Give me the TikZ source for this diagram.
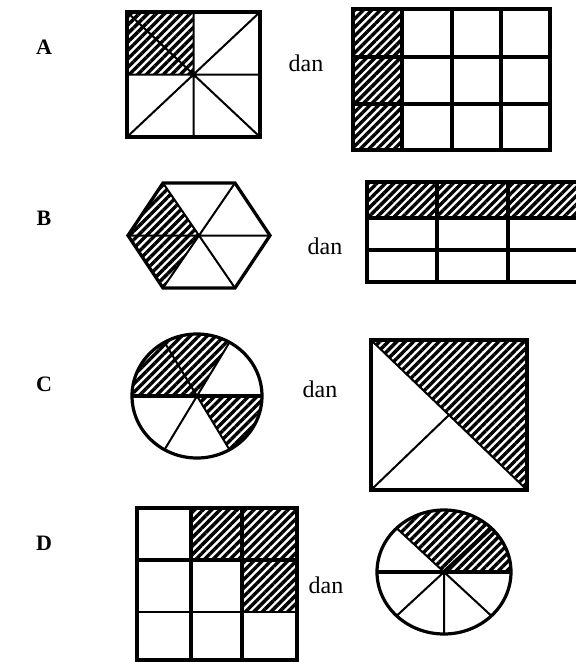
\documentclass[tikz,border=0pt]{standalone}
\usepackage{fontspec}
\setmainfont{Liberation Serif}
\usetikzlibrary{patterns.meta}

\tikzset{
  hatch/.style={pattern={Lines[angle=45,distance=6pt,line width=3.4pt]}},
  outline/.style={line width=3.2pt, line join=miter},
  inner/.style={line width=2pt},
  rowlabel/.style={font=\bfseries\fontsize{22}{22}\selectfont},
  dantext/.style={font=\fontsize{24}{24}\selectfont},
}

\begin{document}
\begin{tikzpicture}[x=1pt, y=-1pt]
    \useasboundingbox (0,0) rectangle (576,662);

    % Row labels
    \node[rowlabel] (labA) at (44,47) {A};
    \node[rowlabel] (labB) at (44,218) {B};
    \node[rowlabel] (labC) at (44,384) {C};
    \node[rowlabel] (labD) at (44,543) {D};

    % "dan" between the two shapes
    \node[dantext] (danA) at (306,63) {dan};
    \node[dantext] (danB) at (325,246) {dan};
    \node[dantext] (danC) at (320,389) {dan};
    \node[dantext] (danD) at (326,585) {dan};

    % A: square cut into eight triangles
    \coordinate (a0) at (193.5,74.5);
    \fill[hatch] (127,12) rectangle (a0);
    \draw[inner] (127,12) -- (260,137) (260,12) -- (127,137)
                 (193.5,12) -- (193.5,137) (127,74.5) -- (260,74.5);
    \draw[outline] (127,12) rectangle (260,137);

    % A: 4 x 3 grid, first column shaded
    \fill[hatch] (353,9) rectangle (402,150);
    \draw[outline] \foreach \x in {402,452,501} {(\x,9) -- (\x,150)}
                   (353,57) -- (550,57) (353,104) -- (550,104);
    \draw[outline] (353,9) rectangle (550,150);

    % B: hexagon, two left triangles shaded
    \coordinate (b0) at (199,235.5);
    \coordinate (h1) at (235,183);
    \coordinate (h2) at (163,183);
    \coordinate (h3) at (128,235.5);
    \coordinate (h4) at (163,288);
    \coordinate (h5) at (235,288);
    \coordinate (h6) at (270,235.5);
    \fill[hatch] (b0) -- (h2) -- (h3) -- (h4) -- cycle;
    \draw[inner] (h1) -- (h4) (h2) -- (h5) (h3) -- (h6);
    \draw[outline] (h1) -- (h2) -- (h3) -- (h4) -- (h5) -- (h6) -- cycle;

    % B: 3 x 3 grid, top row shaded (runs off the page)
    \begin{scope}
      \clip (0,0) rectangle (576,662);
      \fill[hatch] (367,182) rectangle (578,218);
      \draw[outline] (437,182) -- (437,282) (508,182) -- (508,282)
                     (367,218) -- (578,218) (367,250) -- (578,250);
      \draw[outline] (367,182) rectangle (578,282);
    \end{scope}

    % C: circle in six sectors, three shaded
    \coordinate (c0) at (197,396);
    \fill[hatch] (c0) -- ++(180:65 and 62)
        arc[start angle=180, end angle=300, x radius=65, y radius=62] -- cycle;
    \fill[hatch] (c0) -- ++(0:65 and 62)
        arc[start angle=0, end angle=60, x radius=65, y radius=62] -- cycle;
    \draw[inner] \foreach \a in {60,120,240,300} {(c0) -- ++(\a:65 and 62)};
    \draw[outline] (c0) ++(180:65 and 62) -- ++(130,0);
    \draw[outline] (c0) ellipse [x radius=65, y radius=62];

    % C: square in four triangles, half shaded
    \coordinate (s0) at (449,415);
    \fill[hatch] (371,340) -- (527,340) -- (527,490) -- cycle;
    \draw[inner] (371,340) -- (527,490) (371,490) -- (s0);
    \draw[outline] (371,340) rectangle (527,490);

    % D: 3 x 3 grid, three cells shaded
    \fill[hatch] (191,508) rectangle (297,560);
    \fill[hatch] (242,560) rectangle (297,612);
    \draw[outline] (191,508) -- (191,660) (242,508) -- (242,660)
                   (137,560) -- (297,560);
    \draw[inner] (137,612) -- (297,612);
    \draw[outline] (137,508) rectangle (297,660);

    % D: circle in eight sectors, three shaded
    \coordinate (d0) at (444,572);
    \fill[hatch] (d0) -- ++(225:67 and 62)
        arc[start angle=225, end angle=360, x radius=67, y radius=62] -- cycle;
    \draw[inner] \foreach \a in {45,90,135,225} {(d0) -- ++(\a:67 and 62)};
    \draw[line width=4pt] (d0) -- ++(315:67 and 62);
    \draw[outline] (d0) ++(180:67 and 62) -- ++(134,0);
    \draw[outline] (d0) ellipse [x radius=67, y radius=62];
\end{tikzpicture}
\end{document}
